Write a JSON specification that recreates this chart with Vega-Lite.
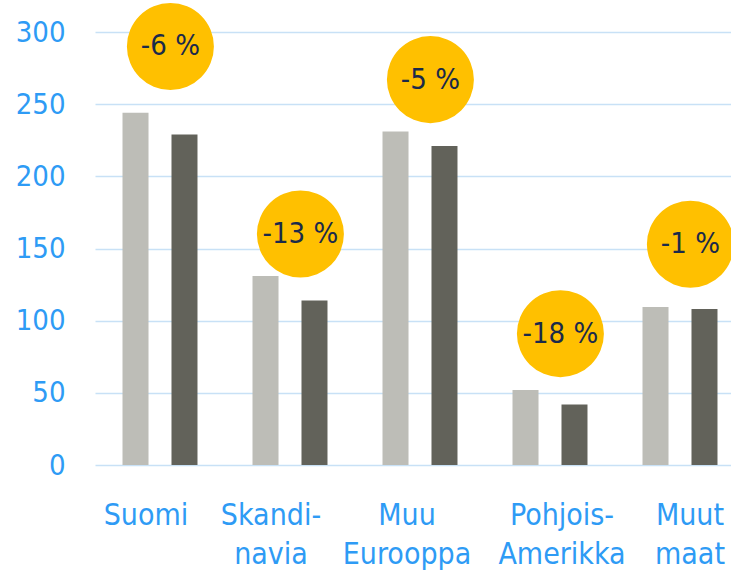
{
  "$schema": "https://vega.github.io/schema/vega-lite/v6.json",
  "width": 650,
  "height": 433,
  "autosize": {"type": "none"},
  "padding": {"left": 95, "top": 32, "right": 0, "bottom": 109},
  "background": "white",
  "config": {"view": {"stroke": null}, "font": "DejaVu Sans Condensed"},
  "datasets": {
    "bars": [
      {"region": "Suomi", "year": "2019", "value": 244},
      {"region": "Suomi", "year": "2020", "value": 229},
      {"region": "Skandinavia", "year": "2019", "value": 131},
      {"region": "Skandinavia", "year": "2020", "value": 114},
      {"region": "Muu Eurooppa", "year": "2019", "value": 231},
      {"region": "Muu Eurooppa", "year": "2020", "value": 221},
      {"region": "Pohjois-Amerikka", "year": "2019", "value": 52},
      {"region": "Pohjois-Amerikka", "year": "2020", "value": 42},
      {"region": "Muut maat", "year": "2019", "value": 109.5},
      {"region": "Muut maat", "year": "2020", "value": 108}
    ],
    "changes": [
      {"region": "Suomi", "change": "-6 %", "badgeY": 290},
      {"region": "Skandinavia", "change": "-13 %", "badgeY": 160},
      {"region": "Muu Eurooppa", "change": "-5 %", "badgeY": 267},
      {"region": "Pohjois-Amerikka", "change": "-18 %", "badgeY": 91},
      {"region": "Muut maat", "change": "-1 %", "badgeY": 153}
    ]
  },
  "layer": [
    {
      "data": {"name": "bars"},
      "mark": {"type": "bar", "width": 26},
      "encoding": {
        "x": {
          "field": "region",
          "type": "nominal",
          "sort": ["Suomi", "Skandinavia", "Muu Eurooppa", "Pohjois-Amerikka", "Muut maat"],
          "scale": {"paddingInner": 0, "paddingOuter": 0},
          "axis": {
            "title": null,
            "ticks": false,
            "domain": false,
            "grid": false,
            "labelAngle": 0,
            "labelFontSize": 30,
            "labelColor": "#2E9BF5",
            "labelBaseline": "top",
            "labelPadding": 35,
            "labelLineHeight": 39,
            "labelOverlap": false,
            "labelBound": false,
            "labelLimit": 0,
            "labelOffset": {"expr": "datum.value == 'Suomi' ? -14 : datum.value == 'Skandinavia' ? -19 : datum.value == 'Muu Eurooppa' ? -13 : datum.value == 'Pohjois-Amerikka' ? 12 : 10"},
            "labelExpr": "datum.value == 'Skandinavia' ? ['Skandi-','navia'] : datum.value == 'Muu Eurooppa' ? ['Muu','Eurooppa'] : datum.value == 'Pohjois-Amerikka' ? ['Pohjois-','Amerikka'] : datum.value == 'Muut maat' ? ['Muut','maat'] : datum.value"
          }
        },
        "xOffset": {"field": "year", "type": "nominal", "scale": {"paddingInner": 0, "paddingOuter": 0.327}},
        "y": {
          "field": "value",
          "type": "quantitative",
          "scale": {"domain": [0, 300]},
          "axis": {
            "title": null,
            "values": [0, 50, 100, 150, 200, 250, 300],
            "ticks": false,
            "domain": false,
            "grid": true,
            "gridColor": "#C8E1F6",
            "gridWidth": 1.5,
            "labelFontSize": 29,
            "labelColor": "#2E9BF5",
            "labelPadding": 30
          }
        },
        "color": {"field": "year", "type": "nominal", "scale": {"range": ["#BDBDB7", "#62625A"]}, "legend": null}
      }
    },
    {
      "data": {"name": "changes"},
      "mark": {"type": "circle", "size": 7570, "opacity": 1, "color": "#FFC000"},
      "encoding": {
        "x": {"field": "region", "type": "nominal", "sort": ["Suomi", "Skandinavia", "Muu Eurooppa", "Pohjois-Amerikka", "Muut maat"], "bandPosition": 0.58},
        "y": {"field": "badgeY", "type": "quantitative"}
      }
    },
    {
      "data": {"name": "changes"},
      "mark": {"type": "text", "fontSize": 29, "color": "#1B2A4A", "baseline": "middle", "align": "center"},
      "encoding": {
        "x": {"field": "region", "type": "nominal", "sort": ["Suomi", "Skandinavia", "Muu Eurooppa", "Pohjois-Amerikka", "Muut maat"], "bandPosition": 0.58},
        "y": {"field": "badgeY", "type": "quantitative"},
        "text": {"field": "change"}
      }
    }
  ]
}
